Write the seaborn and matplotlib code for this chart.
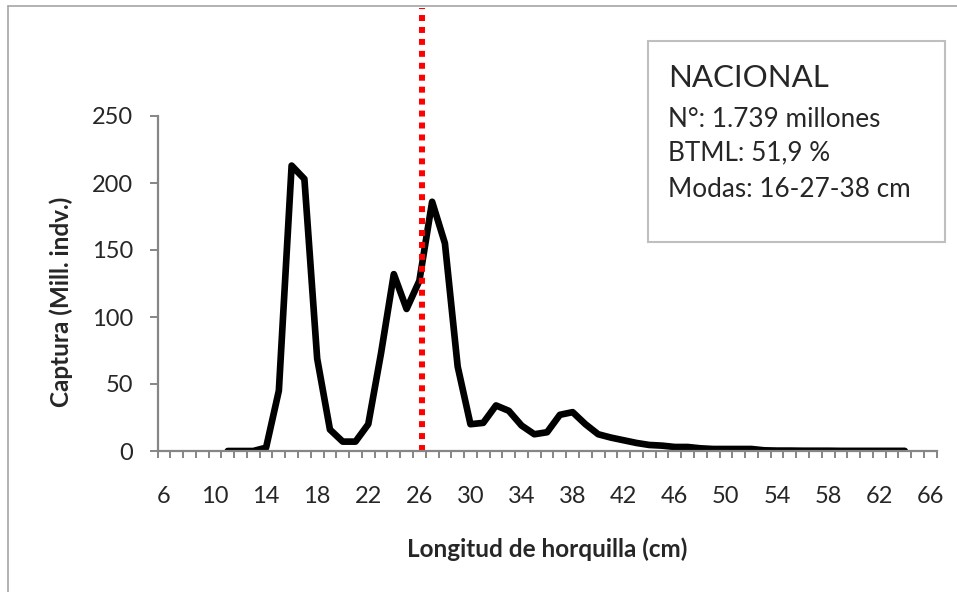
import matplotlib
matplotlib.use("Agg")
import matplotlib.pyplot as plt
import numpy as np
import pandas as pd
import seaborn as sns
from matplotlib.patches import Rectangle
from matplotlib.lines import Line2D

# fork length (cm) and catch (million individuals)
lengths = list(range(11, 65))
catch = [0, 0, 0, 2.5, 45, 213, 203, 69, 16, 7,
         7, 20, 73, 132, 106, 127, 186, 155, 63, 20,
         21, 34, 30, 19, 12.5, 14, 27, 29, 20, 12.5,
         10, 8, 6, 4.5, 4, 3, 3, 2, 1.5, 1.5,
         1.5, 1.5, 0.5, 0.3, 0.3, 0.2, 0.2, 0.2, 0.1, 0.1,
         0.1, 0.1, 0.1, 0.1]
x_ticks = list(range(6, 67, 4))
y_ticks = [0, 50, 100, 150, 200, 250]
bmsl = 26.2  # talla minima legal (linea roja)
info_title = "NACIONAL"
info_lines = ["N°: 1.739 millones", "BTML: 51,9 %", "Modas: 16-27-38 cm"]

sns.set_style("white")
plt.rcParams["font.family"] = ["Lato", "DejaVu Sans"]

W, H = 957, 592
GRAY = "#868686"

fig = plt.figure(figsize=(W / 100, H / 100), dpi=100)
left, right, top, bottom = 157.5, 936.7, 116, 451
ax = fig.add_axes([left / W, 1 - bottom / H, (right - left) / W, (bottom - top) / H])

df = pd.DataFrame({"longitud": lengths, "captura": catch})
sns.lineplot(data=df, x="longitud", y="captura", ax=ax, color="black", lw=4.8)

ax.axvline(bmsl, ymin=0, ymax=(bottom - 8) / (bottom - top), clip_on=False,
           color="red", lw=4.3, ls=(0, (1, 1)), solid_capstyle="butt")

ax.set_xlim(5.5, 66.5)
ax.set_ylim(0, 250)
ax.set_xticks(x_ticks)
ax.set_xticks(np.arange(5.5, 67, 1), minor=True)
ax.set_yticks(y_ticks)
ax.tick_params(axis="x", which="both", bottom=True)
ax.tick_params(axis="y", which="both", left=True)
ax.tick_params(axis="x", which="major", length=0, pad=25, labelsize=17)
ax.tick_params(axis="x", which="minor", length=5, width=1.4, color=GRAY, direction="out")
ax.tick_params(axis="y", which="major", length=5.8, width=1.4, color=GRAY,
               direction="out", pad=12, labelsize=17)

for side in ["top", "right"]:
    ax.spines[side].set_visible(False)
for side in ["left", "bottom"]:
    ax.spines[side].set_color(GRAY)
    ax.spines[side].set_linewidth(1.6)

ax.set_xlabel("")
ax.set_ylabel("")
fig.text(547 / W, 1 - 549 / H, "Longitud de horquilla (cm)", fontsize=17.5,
         fontweight="bold", ha="center", va="center")
fig.text(61 / W, 1 - 301.5 / H, "Captura (Mill. indv.)", fontsize=17.5,
         fontweight="bold", ha="center", va="center", rotation=90)

# info box
fig.patches.append(Rectangle((648.3 / W, 1 - 241.7 / H), (945 - 648.3) / W, (241.7 - 41) / H,
                             transform=fig.transFigure, fill=False,
                             edgecolor="#BFBFBF", lw=1.5))
fig.text(668 / W, 1 - 86.7 / H, info_title, fontsize=22.5, va="baseline", ha="left")
for i, line in enumerate(info_lines):
    y = [127, 160.7, 196.7][i]
    fig.text(668 / W, 1 - y / H, line, fontsize=18.8, va="baseline", ha="left")

# chart frame (left and top edges visible)
fig.lines.append(Line2D([8 / W, 8 / W], [0, 1 - 6 / H], transform=fig.transFigure,
                        color="#A6A6A6", lw=1.2))
fig.lines.append(Line2D([8 / W, 1], [1 - 6 / H, 1 - 6 / H], transform=fig.transFigure,
                        color="#A6A6A6", lw=1.2))

fig.savefig("out.png", dpi=100)
